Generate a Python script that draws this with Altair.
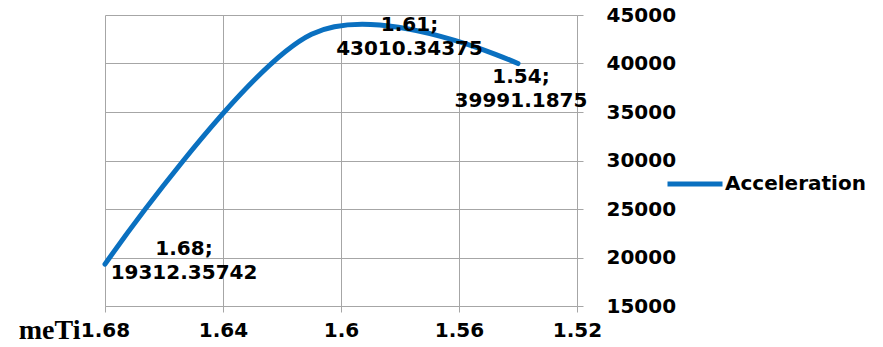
import altair as alt
import pandas as pd

# Series values
time_values = [1.68, 1.61, 1.54]
acceleration = [19312.35742, 43010.34375, 39991.1875]
series_name = "Acceleration"

x_ticks = [1.68, 1.64, 1.6, 1.56, 1.52]
y_ticks = [15000, 20000, 25000, 30000, 35000, 40000, 45000]

df = pd.DataFrame({"t": time_values, "a": acceleration, "series": series_name})

FONT = "DejaVu Sans"
FS = 20
BLUE = "#0A70C0"
GRID = "#A6A6A6"

x_enc = alt.X(
    "t:Q",
    scale=alt.Scale(domain=[1.52, 1.68], reverse=True, nice=False, zero=False),
    axis=alt.Axis(
        values=x_ticks,
        format=".2~f",
        title="meTi",
        titleFont="Liberation Serif",
        titleFontSize=28,
        titleFontWeight="bold",
        titleColor="black",
        titleAngle=0,
        titleAlign="right",
        titleBaseline="alphabetic",
        titleX=-25,
        titleY=32,
        labelFont=FONT,
        labelFontSize=FS,
        labelFontWeight="bold",
        labelColor="black",
        labelPadding=8,
        labelFlush=False,
        tickSize=6,
        tickColor=GRID,
        domainColor=GRID,
        gridColor=GRID,
        grid=True,
    ),
)

y_enc = alt.Y(
    "a:Q",
    scale=alt.Scale(domain=[15000, 45000], nice=False, zero=False),
    axis=alt.Axis(
        orient="right",
        values=y_ticks,
        format="d",
        title=None,
        labelFont=FONT,
        labelFontSize=FS,
        labelFontWeight="bold",
        labelColor="black",
        labelAlign="left",
        labelPadding=23,
        tickSize=6,
        tickColor=GRID,
        domainColor=GRID,
        gridColor=GRID,
        grid=True,
    ),
)

line = alt.Chart(df).mark_line(
    interpolate="cardinal", tension=0, strokeWidth=5, strokeCap="round"
).encode(
    x=x_enc,
    y=y_enc,
    color=alt.Color(
        "series:N",
        scale=alt.Scale(domain=[series_name], range=[BLUE]),
        legend=alt.Legend(
            title=None,
            orient="none",
            legendX=560,
            legendY=139,
            padding=0,
            symbolType="stroke",
            symbolSize=3025,
            symbolStrokeWidth=5,
            labelFont=FONT,
            labelFontSize=FS,
            labelFontWeight="bold",
            labelColor="black",
            labelOffset=0,
        ),
    ),
)


def point_label(t_value, dx, dy):
    return (
        alt.Chart(df)
        .transform_filter(alt.datum.t == t_value)
        .transform_calculate(label="datum.t + ';\\n' + datum.a")
        .mark_text(
            font=FONT,
            fontSize=FS,
            fontWeight="bold",
            color="black",
            align="center",
            baseline="middle",
            lineBreak="\n",
            lineHeight=24,
            dx=dx,
            dy=dy,
        )
        .encode(x="t:Q", y="a:Q", text="label:N")
    )


chart = (
    alt.layer(
        line,
        point_label(1.68, 79, -15),
        point_label(1.61, 98, -9),
        point_label(1.54, 3, 13),
    )
    .properties(
        width=472,
        height=291,
        autosize=alt.AutoSizeParams(type="none"),
        padding={"left": 105, "top": 15, "right": 306, "bottom": 41},
        background="white",
    )
    .configure_view(stroke=None)
)

chart.save("out.html", embed_options={"renderer": "svg", "actions": False})
